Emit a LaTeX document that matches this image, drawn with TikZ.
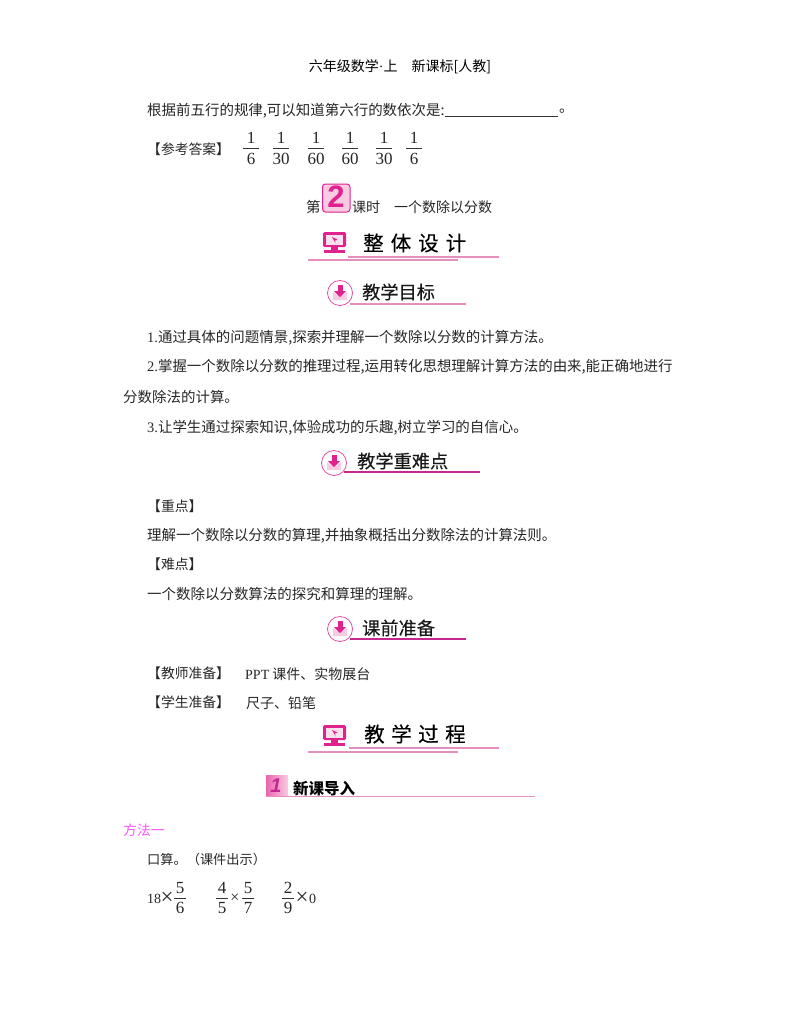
\documentclass[tikz,border=0pt]{standalone}
\usepackage{fontspec}
\setmainfont{Liberation Serif}
\setsansfont{Liberation Sans}
\newfontfamily\cjk{Noto Sans CJK SC}
\newfontfamily\ltn{Liberation Serif}
\definecolor{rosepink}{HTML}{E58FBF}
\definecolor{deeppink}{HTML}{C2288F}
\definecolor{hotpink}{HTML}{E0228E}
\definecolor{palepink}{HTML}{F9CBE2}
\definecolor{methodpink}{HTML}{FF55FF}
\tikzset{
  body/.style={anchor=west,inner sep=0pt,yshift=-1pt,font=\fontsize{14.47}{14}\selectfont\cjk,text=black!85},
  tag/.style={body,yshift=1pt,font=\fontsize{13.8}{14}\selectfont\cjk},
  note/.style={body,font=\fontsize{14}{14}\selectfont\cjk},
  num/.style={inner sep=0pt,font=\fontsize{17}{17}\selectfont\ltn,text=black!85},
  head/.style={inner sep=0pt,font=\fontsize{20.5}{20}\selectfont\cjk\addfontfeature{FakeBold=0.3},text=black},
  subhead/.style={anchor=west,inner sep=0pt,font=\fontsize{18.2}{18}\selectfont\cjk\addfontfeature{FakeBold=0.2},text=black!90},
  bar/.style={line width=0.8pt,black!80},
  softline/.style={line width=1.3pt,rosepink},
  darkline/.style={line width=1.2pt,deeppink}
}
% monitor icon
\newcommand{\screenicon}[2]{
  \fill[hotpink,rounded corners=1.5pt] (#1,#2) rectangle ++(23,15);
  \fill[palepink!60] (#1+3,#2+2.5) rectangle ++(17,10);
  \fill[hotpink] (#1+9,#2+5) -- (#1+14.5,#2+7.5) -- (#1+12,#2+8.5) -- (#1+12.5,#2+11) -- cycle;
  \fill[hotpink] (#1+8,#2+15) rectangle ++(7,3);
  \fill[hotpink] (#1+1,#2+18) rectangle ++(21,3);
}
% round arrow icon
\newcommand{\arrowicon}[3]{
  \draw[line width=0.8pt,hotpink!80,fill=white] (#1,#2) circle (#3);
  \fill[palepink] (#1-7,#2-1) -- (#1,#2+4) -- (#1+7,#2-1) -- (#1+7,#2+7) -- (#1-7,#2+7) -- cycle;
  \fill[hotpink] (#1-2.5,#2-8) rectangle (#1+2.5,#2-1);
  \fill[hotpink] (#1-6,#2-2) -- (#1+6,#2-2) -- (#1,#2+4) -- cycle;
}
\begin{document}
\begin{tikzpicture}[x=1pt,y=-1pt]
  \useasboundingbox (0,0) rectangle (800,1028);

  % Page header
  \node[body,anchor=center,text=black,font=\fontsize{14}{14}\selectfont\cjk] (pagehead) at (400,66) {六年级数学{\ltn ·}上\hspace{14pt}新课标[人教]};

  % Rule of the sixth row
  \node[body] (sixrow) at (147,110) {根据前五行的规律,可以知道第六行的数依次是:};
  \draw[bar] (445,116) -- (558,116);
  \node[body] (sixstop) at (559,110) {。};

  % Answer
  \node[tag] (answer) at (147,149) {【参考答案】};
  \foreach \fx/\fden in {251/6,281/30,316/60,350/60,384/30,414/6} {
    \node[num] (top\fx) at (\fx,138) {1};
    \node[num] (low\fx) at (\fx,159) {\fden};
    \draw[bar] (\fx-8,148) -- (\fx+8,148);
  }

  % Lesson title
  \node[body] (lessonA) at (306,206) {第};
  \draw[line width=1pt,hotpink,fill=palepink,rounded corners=3pt] (322.5,184) rectangle (350,212);
  \node[inner sep=0pt,font=\fontsize{31}{31}\selectfont\bfseries\sffamily,text=hotpink] (lessonno) at (336,197) {2};
  \node[note] (lessonB) at (352,206) {课时\hspace{14pt}一个数除以分数};

  % Overall design
  \screenicon{323}{232}
  \node[head,anchor=west] (design) at (363,243) {整\hspace{7pt}体\hspace{7pt}设\hspace{7pt}计};
  \draw[softline] (348,257) -- (499,257);
  \draw[softline] (308,260) -- (458,260);

  % Aims
  \arrowicon{340}{293}{12.5}
  \node[subhead] (aims) at (362,292) {教学目标};
  \draw[softline] (350,304) -- (466,304);
  \node[body] (aimA) at (147,337) {{\ltn 1.}通过具体的问题情景,探索并理解一个数除以分数的计算方法。};
  \node[body] (aimB) at (147,366) {{\ltn 2.}掌握一个数除以分数的推理过程,运用转化思想理解计算方法的由来,能正确地进行};
  \node[body] (aimC) at (123,396) {分数除法的计算。};
  \node[body] (aimD) at (147,427) {{\ltn 3.}让学生通过探索知识,体验成功的乐趣,树立学习的自信心。};

  % Key points
  \arrowicon{334}{463}{12.5}
  \node[subhead] (keys) at (357,461) {教学重难点};
  \draw[darkline] (344,472) -- (480,472);
  \node[tag] (keyA) at (147,506) {【重点】};
  \node[body] (keyB) at (147,535) {理解一个数除以分数的算理,并抽象概括出分数除法的计算法则。};
  \node[tag] (keyC) at (147,564) {【难点】};
  \node[body] (keyD) at (147,593) {一个数除以分数算法的探究和算理的理解。};

  % Preparation
  \arrowicon{340}{629}{12.5}
  \node[subhead] (prep) at (362,628) {课前准备};
  \draw[darkline] (350,639) -- (466,639);
  \node[tag] (prepA) at (147,673) {【教师准备】};
  \node[note] (prepAb) at (245,673) {{\ltn PPT} 课件、实物展台};
  \node[tag] (prepB) at (147,702) {【学生准备】};
  \node[note] (prepBb) at (246,702) {尺子、铅笔};

  % Teaching process
  \screenicon{323}{725}
  \node[head,anchor=west] (process) at (364,734) {教\hspace{6.5pt}学\hspace{6.5pt}过\hspace{6.5pt}程};
  \draw[softline] (349,748) -- (499,748);
  \draw[softline] (308,752) -- (458,752);

  % New lesson
  \shade[left color=hotpink!70,right color=palepink] (266,775) rectangle (288,796);
  \node[inner sep=0pt,font=\fontsize{20}{20}\selectfont\bfseries\itshape\sffamily,text=deeppink] (newno) at (276,786) {1};
  \node[body,font=\fontsize{15.5}{15}\selectfont\cjk\bfseries,text=black] (newlesson) at (293,788) {新课导入};
  \draw[softline] (266,796.5) -- (535,796.5);

  % Method
  \node[body,text=methodpink,font=\fontsize{13.8}{14}\selectfont\cjk] (method) at (123,829) {方法一};
  \node[body,font=\fontsize{13.2}{14}\selectfont\cjk] (oral) at (147,858) {口算。（课件出示）};

  % Oral sums
  \node[num,anchor=west,font=\fontsize{14}{14}\selectfont\ltn] (sumA) at (147,899) {18};
  \node[num,font=\fontsize{23}{23}\selectfont\ltn] (crossA) at (167,898) {×};
  \node[num,font=\fontsize{16}{16}\selectfont\ltn] (crossB) at (235,898) {×};
  \node[num,font=\fontsize{23}{23}\selectfont\ltn] (crossC) at (302,898) {×};
  \node[num,anchor=west,font=\fontsize{14}{14}\selectfont\ltn] (sumC) at (309,899) {0};
  \foreach \fx/\ftop/\fden in {180/5/6,222/4/5,248/5/7,288/2/9} {
    \node[num] (stop\fx) at (\fx,888) {\ftop};
    \node[num] (slow\fx) at (\fx,908) {\fden};
    \draw[bar] (\fx-6,898) -- (\fx+6,898);
  }
\end{tikzpicture}
\end{document}
